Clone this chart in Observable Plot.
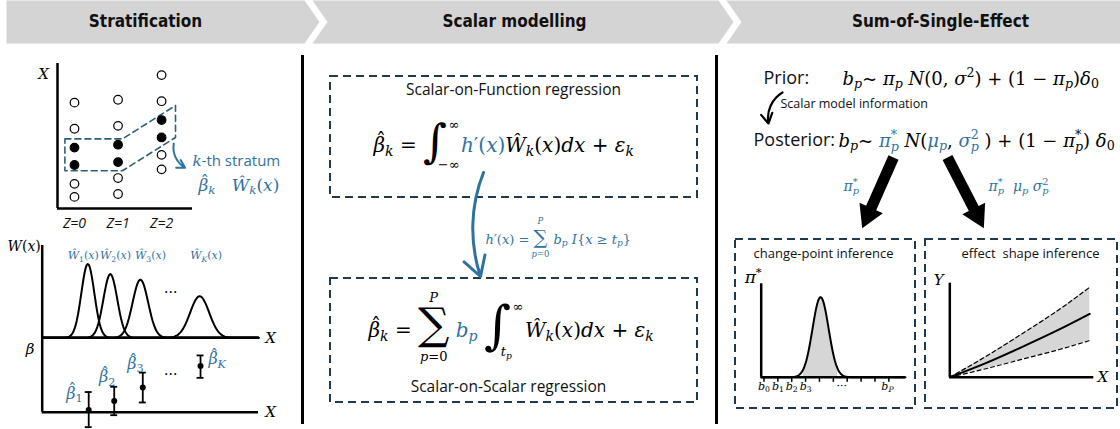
<!DOCTYPE html>
<html><head><meta charset="utf-8">
<script src="https://cdn.jsdelivr.net/npm/d3@7"></script>
<script src="https://cdn.jsdelivr.net/npm/@observablehq/plot@0.6"></script>
<style>
html,body{margin:0;padding:0;background:#fff;}
#wrap{position:relative;width:1120px;height:429px;overflow:hidden;background:#fff;}
#wrap > svg{position:absolute;overflow:visible;}
</style></head><body><div id="wrap"></div>
<script>
// ---------------- data ----------------
const stages = ["Stratification", "Scalar modelling", "Sum-of-Single-Effect"];
const stageLeft = [6, 312, 726];
const stageRight = [304, 718, 1120];
const stageCenters = [145, 514, 940];

// panel 1: stratified individuals
const zLevels = [0, 1, 2];
const zLabels = ["Z=0", "Z=1", "Z=2"];
const pointZ = [0,0,0,0,0,0, 1,1,1,1,1,1, 2,2,2,2,2,2];
const pointX = [7.3,5.5,4.2,3.0,1.7,0.8, 7.5,5.7,4.4,3.2,2.1,1.0, 9.2,7.4,6.1,4.9,3.7,2.7];
const inStratum = [0,0,1,1,0,0, 0,0,1,1,0,0, 0,0,1,1,0,0];
const stratumZ = [-0.22, 1.1, 2.32, 2.32, 1.1, -0.22, -0.22];
const stratumX = [4.8, 4.8, 7.1, 4.9, 2.6, 2.6, 4.8];

// panel 1: stratum weight functions
const kernelNames = ["Ŵ_{1}(x)", "Ŵ_{2}(x)", "Ŵ_{3}(x)", "Ŵ_{K}(x)"];
const kernelCenter = [21.1, 31.5, 45.4, 72.8];
const kernelPeak = [0.80, 0.69, 0.63, 0.45];
const kernelSpread = [3.0, 3.2, 3.6, 4.4];
const kernelLabelX = [19, 33.9, 50.1, 75.8];

// panel 1: stratum estimates
const betaNames = ["$H{β}_{1}", "$H{β}_{2}", "$H{β}_{3}", "$H{β}_{K}"];
const betaX = [21.5, 33.3, 46.5, 73.2];
const betaEst = [0.03, 0.15, 0.33, 0.62];
const betaLow = [-0.20, -0.04, 0.13, 0.46];
const betaHigh = [0.27, 0.34, 0.53, 0.76];
const betaLabelX = [14.9, 30.1, 43.1, 80.9];
const betaLabelY = [0.25, 0.47, 0.65, 0.71];

// panel 3: change-point inference
const cpTicks = [0,1,2,3,4,5,6,7,8,9];
const cpTickLabels = ["b_{0}", "b_{1}", "b_{2}", "b_{3}", "···", "b_{P}"];
const cpTickLabelPos = [0, 1, 2, 3, 5.6, 8.9];
const cpCenter = 4.08, cpPeak = 0.857, cpSpread = 0.58;
const cpShade = [2.85, 5.3];

// panel 3: effect shape inference
const effX = [0, 0.25, 0.5, 0.75, 0.972];
const effUpper = [0, 0.22, 0.46, 0.71, 0.957];
const effMean = [0, 0.15, 0.32, 0.50, 0.674];
const effLower = [0, 0.09, 0.19, 0.29, 0.39];

// texts
const plainLabels = [
  {x: 513, y: 90, t: "Scalar-on-Function regression", size: 15.5, a: "middle"},
  {x: 508, y: 387, t: "Scalar-on-Scalar regression", size: 15.5, a: "middle"},
  {x: 823, y: 253, t: "change-point inference", size: 13, a: "middle"},
  {x: 1030, y: 253, t: "effect  shape inference", size: 13, a: "middle"},
  {x: 780, y: 103.5, t: "Scalar model information", size: 12.5, a: "start"},
  {x: 763, y: 78, t: "Prior:", size: 18, a: "start"},
  {x: 753, y: 140, t: "Posterior:", size: 18, a: "start"}
];
const formulas = [
  {x: 192, y: 165, t: "§{15:{b:k{s:-th stratum}}}"},
  {x: 198, y: 190, t: "§{17:{b:$H{β}_{k}   Ŵ_{k}(x)}}"},
  {x: 373, y: 151, t: "§{20:$H{β}_{k} = {2.3:{o0.12:∫}}$L{−∞}{∞}{b:h′(x)}Ŵ_{k}(x)dx + ε_{k}}"},
  {x: 485, y: 243, t: "§{13:{b:h′(x) = {1.5:∑}$S(1.0,0.7){p=0}{P} b_{p} I\\{x ≥ t_{p}\\}}}"},
  {x: 368, y: 336, t: "§{20:$H{β}_{k} = {2.2:{o0.05:∑}}$S(0.78,0.55){p=0}{P} {b:b_{p}} {2.6:{o0.12:∫}}$L{t_{p}}{∞}Ŵ_{k}(x)dx + ε_{k}}"},
  {x: 842, y: 84, t: "§{18:b_{p}~ π_{p} N(0, σ^{2}) + (1 − π_{p})δ_{0}}"},
  {x: 838, y: 146, t: "§{18:b_{p}~ {b:π$T{p}{*}} N({b:μ_{p}}, {b:σ$T{p}{2}} ) + (1 − π$T{p}{*}) δ_{0}}"},
  {x: 843, y: 190, t: "§{14:{b:π$T{p}{*}}}"},
  {x: 988, y: 190, t: "§{14:{b:π$T{p}{*}  μ_{p} σ$T{p}{2}}}"}
];

// ---------------- style ----------------
const BLUE = "#2f72a0";
const NAVY = "#1e3a4c";
const SHADE = "#d6d6d6";
const MATH = "'DejaVu Serif', 'Liberation Serif', serif";
const SANS = "'Open Sans', 'Noto Sans', sans-serif";
const HEAD = "'DejaVu Sans Condensed', 'DejaVu Sans', sans-serif";

const wrap = document.getElementById("wrap");
function place(svg, left, top) {
  svg.style.left = left + "px"; svg.style.top = top + "px";
  wrap.appendChild(svg);
}

// ---------------- main layout plot ----------------
const headerPolys = [];
stages.forEach((s, i) => {
  const x0 = stageLeft[i], x1 = stageRight[i], H = 43, d = 15;
  const pts = [[x0, 0], [x1, 0]];
  if (i < stages.length - 1) pts.push([x1 + d, H / 2]);
  pts.push([x1, H], [x0, H]);
  if (i > 0) pts.push([x0 + d, H / 2]);
  pts.forEach(([x, y]) => headerPolys.push({seg: s, x, y}));
});
const headerText = stages.map((s, i) => ({x: stageCenters[i], y: 21, t: s}));
const dividers = [{x: 302, y1: 55, y2: 424}, {x: 716, y1: 55, y2: 424}];
const boxes = [
  {x1: 330, x2: 697, y1: 76, y2: 197},
  {x1: 330, x2: 697, y1: 278, y2: 402},
  {x1: 735, x2: 915, y1: 239, y2: 408},
  {x1: 925, x2: 1117, y1: 239, y2: 408}
];
const thick = [{x1: 893, y1: 157, x2: 862, y2: 227}, {x1: 947, y1: 157, x2: 983, y2: 227}].map(a => {
  const dx = a.x2 - a.x1, dy = a.y2 - a.y1, L = Math.hypot(dx, dy);
  return {...a, hx: a.x2 - dx / L * 14, hy: a.y2 - dy / L * 14, angle: Math.atan2(dx, -dy) * 180 / Math.PI};
});

const main = Plot.plot({
  width: 1120, height: 429, margin: 0,
  x: {domain: [0, 1120], axis: null},
  y: {domain: [429, 0], axis: null},
  marks: [
    Plot.line(headerPolys, {x: "x", y: "y", z: "seg", fill: "#d4d4d4", stroke: "none"}),
    Plot.text(headerText, {x: "x", y: "y", text: "t", fontSize: 17, fontWeight: "bold", fontFamily: HEAD, fill: "#111"}),
    Plot.ruleX(dividers, {x: "x", y1: "y1", y2: "y2", strokeWidth: 3, stroke: "black"}),
    Plot.rect(boxes, {x1: "x1", x2: "x2", y1: "y1", y2: "y2", fill: "none", stroke: NAVY, strokeWidth: 2, strokeDasharray: "8,5"}),
    Plot.text(plainLabels.filter(d => d.a === "middle"), {x: "x", y: "y", text: "t", fontSize: d => d.size, fontFamily: SANS, fill: "#111"}),
    Plot.text(plainLabels.filter(d => d.a === "start"), {x: "x", y: "y", text: "t", fontSize: d => d.size, fontFamily: SANS, fill: "#111", textAnchor: "start"}),
    Plot.text(formulas, {x: "x", y: "y", text: "t", fontSize: 16, textAnchor: "start", lineAnchor: "bottom"}),
    Plot.arrow([{x1: 483, y1: 172, x2: 480, y2: 276}], {x1: "x1", y1: "y1", x2: "x2", y2: "y2", bend: -20, stroke: BLUE, strokeWidth: 3, headLength: 11}),
    Plot.arrow([{x1: 782, y1: 92, x2: 768, y2: 123}], {x1: "x1", y1: "y1", x2: "x2", y2: "y2", bend: -35, stroke: "black", strokeWidth: 2.2, headLength: 8}),
    Plot.link(thick, {x1: "x1", y1: "y1", x2: "hx", y2: "hy", stroke: "black", strokeWidth: 11}),
    Plot.dot(thick, {x: "hx", y: "hy", symbol: "triangle", r: 9.5, rotate: "angle", fill: "black", stroke: "none"})
  ]
});
place(main, 0, 0);

// ---------------- panel 1a: scatter ----------------
const pts = pointZ.map((z, i) => ({zz: z, xx: pointX[i], f: inStratum[i] ? "black" : "white"}));
const strat = stratumZ.map((z, i) => ({zz: z, xx: stratumX[i]}));
const zText = zLevels.map((z, i) => ({zz: z, t: zLabels[i]}));
const p1 = Plot.plot({
  width: 300, height: 185, marginLeft: 57, marginRight: 108, marginTop: 13, marginBottom: 27,
  x: {domain: [-0.39, 2.71], axis: null}, y: {domain: [0, 10], axis: null},
  marks: [
    Plot.line(strat, {x: "zz", y: "xx", stroke: "#2e5f7a", strokeWidth: 1.6, strokeDasharray: "6,4"}),
    Plot.dot(pts, {x: "zz", y: "xx", r: 4.3, fill: "f", stroke: "black", strokeWidth: 1.2}),
    Plot.ruleX([-0.39], {y1: 0, y2: 10, strokeWidth: 2.5, stroke: "black"}),
    Plot.ruleY([0], {x1: -0.39, x2: 2.71, strokeWidth: 2.5, stroke: "black"}),
    Plot.text(zText, {x: "zz", y: 0, text: "t", dy: 15, fontSize: 14, fontStyle: "italic", fontFamily: SANS, fill: "#111"}),
    Plot.text([{x: -0.39, y: 9.25}], {x: "x", y: "y", text: () => "§{15:X}", dx: -14, fontSize: 15}),
    Plot.arrow([{x1: 2.28, y1: 4.48, x2: 2.54, y2: 2.81}], {x1: "x1", y1: "y1", x2: "x2", y2: "y2", bend: -35, stroke: BLUE, strokeWidth: 2, headLength: 7})
  ]
});
place(p1, 0, 50);

// ---------------- panel 1b: weight functions ----------------
const grid = d3.range(0, 100.01, 0.5);
const kernels = kernelCenter.flatMap((m, k) => grid.map(x => ({k, x, y: kernelPeak[k] * Math.exp(-0.5 * ((x - m) / kernelSpread[k]) ** 2)})));
const kLabels = kernelNames.map((n, k) => ({x: kernelLabelX[k], y: 0.89, t: "§{11:{b:" + n + "}}"}));
const p2 = Plot.plot({
  width: 300, height: 120, marginLeft: 41.7, marginRight: 42, marginTop: 15, marginBottom: 12.7,
  x: {domain: [0, 100], axis: null}, y: {domain: [0, 1], axis: null},
  marks: [
    Plot.line(kernels, {x: "x", y: "y", z: "k", stroke: "black", strokeWidth: 2}),
    Plot.ruleX([0], {y1: 0, y2: 1, strokeWidth: 2.5, stroke: "black"}),
    Plot.ruleY([0], {x1: 0, x2: 100, strokeWidth: 2.5, stroke: "black"}),
    Plot.text(kLabels, {x: "x", y: "y", text: "t", fontSize: 11}),
    Plot.text([{x: 59.4, y: 0.49}], {x: "x", y: "y", text: () => "···", fontSize: 14, fontFamily: MATH}),
    Plot.text([{x: 0, y: 0.99}], {x: "x", y: "y", text: () => "§{14:W(x)}", dx: -18, fontSize: 14}),
    Plot.text([{x: 100, y: 0}], {x: "x", y: "y", text: () => "§{15:X}", dx: 12, fontSize: 15})
  ]
});
place(p2, 0, 230);

// ---------------- panel 1c: estimates ----------------
const betas = betaX.map((x, i) => ({x, est: betaEst[i], lo: betaLow[i], hi: betaHigh[i]}));
const bLabels = betaNames.map((n, i) => ({x: betaLabelX[i], y: betaLabelY[i], t: "§{16:{b:" + n + "}}"}));
const p3 = Plot.plot({
  width: 300, height: 99, marginLeft: 41.7, marginRight: 42, marginTop: 7, marginBottom: 17.3,
  x: {domain: [0, 100], axis: null}, y: {domain: [0, 1], axis: null},
  marks: [
    Plot.ruleX([0], {y1: 0, y2: 1, strokeWidth: 2.5, stroke: "black"}),
    Plot.ruleY([0], {x1: 0, x2: 100, strokeWidth: 2.5, stroke: "black"}),
    Plot.ruleX(betas, {x: "x", y1: "lo", y2: "hi", strokeWidth: 1.8, stroke: "black"}),
    Plot.ruleY(betas, {y: "lo", x1: d => d.x - 1.6, x2: d => d.x + 1.6, strokeWidth: 1.8, stroke: "black"}),
    Plot.ruleY(betas, {y: "hi", x1: d => d.x - 1.6, x2: d => d.x + 1.6, strokeWidth: 1.8, stroke: "black"}),
    Plot.dot(betas, {x: "x", y: "est", r: 3, fill: "black"}),
    Plot.text(bLabels, {x: "x", y: "y", text: "t", fontSize: 16}),
    Plot.text([{x: 59.4, y: 0.51}], {x: "x", y: "y", text: () => "···", fontSize: 14, fontFamily: MATH}),
    Plot.text([{x: 0, y: 0.85}], {x: "x", y: "y", text: () => "§{15:β}", dx: -12, fontSize: 15}),
    Plot.text([{x: 100, y: 0}], {x: "x", y: "y", text: () => "§{15:X}", dx: 12, fontSize: 15})
  ]
});
place(p3, 0, 330);

// ---------------- panel 3a: change-point ----------------
const cpGrid = d3.range(-0.2, 10.2001, 0.05);
const cpCurve = cpGrid.map(x => ({x, y: cpPeak * Math.exp(-0.5 * ((x - cpCenter) / cpSpread) ** 2)}));
const cpLabels = cpTickLabels.map((t, i) => ({x: cpTickLabelPos[i], y: 0, t: t === "···" ? t : "§{11:" + t + "}"}));
const p4 = Plot.plot({
  width: 180, height: 145, marginLeft: 25.7, marginRight: 10, marginTop: 23.3, marginBottom: 28.3,
  x: {domain: [-0.2, 10.2], axis: null}, y: {domain: [0, 1], axis: null},
  marks: [
    Plot.areaY(cpCurve.filter(d => d.x >= cpShade[0] && d.x <= cpShade[1]), {x: "x", y: "y", fill: SHADE}),
    Plot.line(cpCurve, {x: "x", y: "y", stroke: "black", strokeWidth: 2}),
    Plot.ruleX(cpTicks, {y1: 0, y2: -0.055, strokeWidth: 1.5, stroke: "black"}),
    Plot.ruleX([-0.2], {y1: 0, y2: 1, strokeWidth: 2.5, stroke: "black"}),
    Plot.ruleY([0], {x1: -0.2, x2: 10.2, strokeWidth: 2.5, stroke: "black"}),
    Plot.text(cpLabels, {x: "x", y: "y", text: "t", dy: 9, fontSize: 11, fontFamily: MATH}),
    Plot.text([{x: -0.2, y: 1.07}], {x: "x", y: "y", text: () => "§{17:π^{*}}", dx: -8, fontSize: 17})
  ]
});
place(p4, 735, 260);

// ---------------- panel 3b: effect shape ----------------
const eff = effX.map((x, i) => ({x, up: effUpper[i], mean: effMean[i], lo: effLower[i]}));
const p5 = Plot.plot({
  width: 192, height: 145, marginLeft: 24.3, marginRight: 23.7, marginTop: 22.7, marginBottom: 28.3,
  x: {domain: [0, 1], axis: null}, y: {domain: [0, 1], axis: null},
  marks: [
    Plot.areaY(eff, {x: "x", y1: "lo", y2: "up", fill: SHADE, curve: "natural"}),
    Plot.line(eff, {x: "x", y: "up", stroke: "black", strokeWidth: 1.2, strokeDasharray: "4,3", curve: "natural"}),
    Plot.line(eff, {x: "x", y: "lo", stroke: "black", strokeWidth: 1.2, strokeDasharray: "4,3", curve: "natural"}),
    Plot.line(eff, {x: "x", y: "mean", stroke: "black", strokeWidth: 2, curve: "natural"}),
    Plot.ruleX([0], {y1: 0, y2: 1, strokeWidth: 2.5, stroke: "black"}),
    Plot.ruleY([0], {x1: 0, x2: 1, strokeWidth: 2.5, stroke: "black"}),
    Plot.text([{x: 0, y: 1.03}], {x: "x", y: "y", text: () => "§{15:Y}", dx: -11, fontSize: 15}),
    Plot.text([{x: 1, y: 0}], {x: "x", y: "y", text: () => "§{15:X}", dx: 9, fontSize: 15})
  ]
});
place(p5, 925, 260);

// ---------------- rich (math) text ----------------
const LETTER = /[A-Za-z\u00C0-\u024F\u0370-\u03FF]/;
const COMB = /[\u0300-\u036F]/;
function parseRich(s) {
  let i = 0;
  function arg() {
    if (s[i] === "{") { i++; return seq("}"); }
    const ch = s[i]; i++; return [{t: "txt", s: ch}];
  }
  function seq(end) {
    const out = []; let buf = "";
    const flush = () => { if (buf) { out.push({t: "txt", s: buf}); buf = ""; } };
    while (i < s.length) {
      const c = s[i];
      if (c === end) { i++; flush(); return out; }
      if (c === "\\") { buf += s[i + 1]; i += 2; continue; }
      if (c === "_" || c === "^") { flush(); i++; out.push({t: c === "_" ? "sub" : "sup", c: arg()}); continue; }
      if (c === "$") {
        flush(); const k = s[i + 1]; i += 2;
        if (k === "H") { out.push({t: "hat", c: arg()}); continue; }
        let p = null;
        if (s[i] === "(") { const j = s.indexOf(")", i); p = s.slice(i + 1, j).split(",").map(Number); i = j + 1; }
        const a = arg(), b = arg(); out.push({t: "lim", k, p, sub: a, sup: b}); continue;
      }
      if (c === "{") {
        flush(); i++;
        const m = /^([a-z]|o-?[0-9.]+|[0-9.]+):/.exec(s.slice(i)); let key = null;
        if (m) { key = m[1]; i += m[0].length; }
        out.push({t: "grp", key, c: seq("}")}); continue;
      }
      buf += c; i++;
    }
    flush(); return out;
  }
  return seq(null);
}
function renderRich(el, tree) {
  const NS = "http://www.w3.org/2000/svg";
  el.textContent = "";
  el.style.whiteSpace = "pre";
  let cur = 0, pendingDx = 0, last = null;
  function key(st, k) {
    if (!k) return st;
    if (k === "b") return {...st, color: BLUE};
    if (k === "k") return {...st, color: "#000"};
    if (k === "r") return {...st, italic: false};
    if (k === "i") return {...st, italic: true};
    if (k === "s") return {...st, italic: false, family: SANS};
    if (k[0] === "o") return {...st, off: st.off + parseFloat(k.slice(1)) * st.size};
    const v = parseFloat(k);
    if (!isNaN(v)) return {...st, size: v > 4 ? v : st.size * v};
    return st;
  }
  function emit(str, st) {
    const runs = [];
    for (const ch of str) {
      if (COMB.test(ch) && runs.length) { runs[runs.length - 1].s += ch; continue; }
      const it = st.italic != null ? st.italic : LETTER.test(ch);
      const r = runs[runs.length - 1];
      if (r && r.it === it) r.s += ch; else runs.push({s: ch, it});
    }
    const made = [];
    for (const r of runs) {
      const t = document.createElementNS(NS, "tspan");
      t.textContent = r.s;
      t.setAttribute("font-size", st.size);
      t.setAttribute("font-style", r.it ? "italic" : "normal");
      t.setAttribute("font-family", st.family);
      t.setAttribute("fill", st.color);
      const dy = st.off - cur;
      if (Math.abs(dy) > 1e-6) t.setAttribute("dy", dy.toFixed(2));
      cur = st.off;
      if (pendingDx) { t.setAttribute("dx", pendingDx.toFixed(2)); pendingDx = 0; }
      el.appendChild(t); made.push(t); last = t;
    }
    return made;
  }
  const width = ts => ts.reduce((a, t) => a + t.getComputedTextLength(), 0);
  function hat(n, st) {
    const base = walk(n.c, st);
    const wB = width(base);
    const carry = pendingDx; pendingDx = 0;
    const h = emit("ˆ", {...st, italic: false, off: st.off - st.size * 0.2});
    const wH = width(h);
    const shift = st.size * 0.08;
    h[0].setAttribute("dx", (carry - (wB + wH) / 2 + shift).toFixed(2));
    pendingDx = (wB - wH) / 2 - shift;
    return base.concat(h);
  }
  function lim(n, st) {
    const base = last;
    const bs = base ? +base.getAttribute("font-size") : st.size;
    const wB = base ? base.getComputedTextLength() : 0;
    const carry = pendingDx; pendingDx = 0;
    let ls, supOff, subOff;
    if (n.k === "S") { const p = n.p || [0.8, 0.5]; ls = st.size * 0.65; supOff = st.off - bs * p[0]; subOff = st.off + bs * p[1]; }
    else if (n.k === "L") { const p = n.p || [0.5, 0.38]; ls = st.size * 0.65; supOff = st.off - bs * p[0]; subOff = st.off + bs * p[1]; }
    else { ls = st.size * 0.7; supOff = st.off - st.size * 0.42; subOff = st.off + st.size * 0.25; }
    const sup = walk(n.sup, {...st, size: ls, off: supOff});
    const wSup = width(sup);
    const sub = walk(n.sub, {...st, size: ls, off: subOff});
    const wSub = width(sub);
    let a = 0, b = 0;
    if (n.k === "S") { a = -(wB + wSup) / 2; b = -(wB + wSub) / 2; }
    else if (n.k === "L") { a = bs * 0.03; b = -bs * 0.2; }
    if (sup.length) sup[0].setAttribute("dx", (a + carry).toFixed(2));
    if (sub.length) sub[0].setAttribute("dx", (b - (a + wSup)).toFixed(2));
    let end;
    if (n.k === "S") end = Math.max(0, (Math.max(wSup, wSub) - wB) / 2);
    else end = Math.max(a + wSup, b + wSub) + (n.k === "L" ? bs * 0.03 : 0);
    pendingDx = end - (b + wSub);
    return sup.concat(sub);
  }
  function walk(nodes, st) {
    let made = [];
    for (const n of nodes) {
      if (n.t === "txt") made = made.concat(emit(n.s, st));
      else if (n.t === "grp") made = made.concat(walk(n.c, key(st, n.key)));
      else if (n.t === "sub") made = made.concat(walk(n.c, {...st, size: st.size * 0.7, off: st.off + st.size * 0.22}));
      else if (n.t === "sup") made = made.concat(walk(n.c, {...st, size: st.size * 0.7, off: st.off - st.size * 0.42}));
      else if (n.t === "lim") made = made.concat(lim(n, st));
      else if (n.t === "hat") made = made.concat(hat(n, st));
    }
    return made;
  }
  walk(tree, {size: 16, color: "#000", italic: null, family: MATH, off: 0});
}
wrap.querySelectorAll("text").forEach(el => {
  const s = el.textContent;
  if (s && s.startsWith("§")) renderRich(el, parseRich(s.slice(1)));
});
</script>
</body></html>
